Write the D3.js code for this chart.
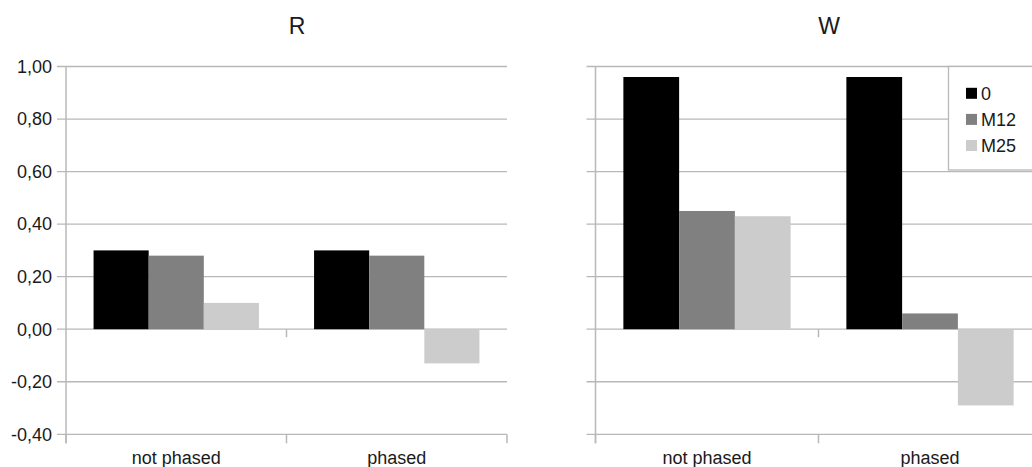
<!DOCTYPE html>
<html><head><meta charset="utf-8">
<script src="https://cdn.jsdelivr.net/npm/d3@7"></script>
<style>
body{margin:0;background:#fff;overflow:hidden}
text{font-family:"Liberation Sans",Arial,sans-serif;fill:#1a1a1a}
</style></head>
<body><svg id="c" width="1032" height="467"></svg>
<script>
const categories = ["not phased", "phased"];
const seriesNames = ["0", "M12", "M25"];
const seriesColors = ["#000000", "#808080", "#cccccc"];
const yTicks = [-0.4, -0.2, 0, 0.2, 0.4, 0.6, 0.8, 1.0];
const titles = ["R", "W"];
// values[series][category]
const valuesR = [[0.30, 0.30], [0.28, 0.28], [0.10, -0.13]];
const valuesW = [[0.96, 0.96], [0.45, 0.06], [0.43, -0.29]];

const svg = d3.select("#c");
const y = d3.scaleLinear().domain([-0.4, 1.0]).range([434.3, 66.5]);
const fmt = v => d3.format(".2f")(v).replace(".", ",").replace("−", "-");
const grid = "#b8b8b8";

function panel(x0, x1, values, title, showLabels, showLegend) {
  const g = svg.append("g");
  const x = d3.scaleBand().domain(categories).range([x0, x1]).paddingInner(0).paddingOuter(0);
  const inner = d3.scaleBand().domain(seriesNames).range([0, x.bandwidth()]).paddingOuter(0.5).paddingInner(0);

  // gridlines
  g.selectAll("line.grid").data(yTicks).join("line")
    .attr("x1", x0 - 9).attr("x2", x1).attr("y1", d => y(d)).attr("y2", d => y(d))
    .attr("stroke", grid).attr("stroke-width", 1.3);

  // bars
  seriesNames.forEach((s, si) => {
    g.selectAll(null).data(categories).join("rect")
      .attr("x", c => x(c) + inner(s))
      .attr("width", inner.bandwidth())
      .attr("y", (c, ci) => y(Math.max(0, values[si][ci])))
      .attr("height", (c, ci) => Math.abs(y(values[si][ci]) - y(0)))
      .attr("fill", seriesColors[si]);
  });

  // y axis line
  g.append("line").attr("x1", x0).attr("x2", x0).attr("y1", y(1.0)).attr("y2", y(-0.4) + 9)
    .attr("stroke", grid).attr("stroke-width", 1.5);
  // category ticks
  const bounds = [x0, ...categories.slice(1).map(c => x(c)), x1];
  g.selectAll("line.ct").data(bounds).join("line")
    .attr("x1", d => d).attr("x2", d => d).attr("y1", y(-0.4)).attr("y2", y(-0.4) + 9)
    .attr("stroke", grid).attr("stroke-width", 1.5);
  // zero-line tick at the category boundary
  g.selectAll("line.zt").data(categories.slice(1)).join("line")
    .attr("x1", c => x(c)).attr("x2", c => x(c)).attr("y1", y(0)).attr("y2", y(0) + 8)
    .attr("stroke", grid).attr("stroke-width", 1.5);

  if (showLabels) {
    g.selectAll("text.yl").data(yTicks).join("text")
      .attr("x", x0 - 14).attr("y", d => y(d)).attr("dy", "0.35em")
      .attr("text-anchor", "end").attr("font-size", 18).text(fmt);
  }
  g.selectAll("text.xl").data(categories).join("text")
    .attr("x", c => x(c) + x.bandwidth() / 2).attr("y", 464)
    .attr("text-anchor", "middle").attr("font-size", 18).text(c => c);

  g.append("text").attr("x", (x0 + x1) / 2 + 10.5).attr("y", 34)
    .attr("text-anchor", "middle").attr("font-size", 23).text(title);

  if (showLegend) {
    const lg = g.append("g");
    lg.append("rect").attr("x", 948.5).attr("y", y(1.0)).attr("width", 100).attr("height", 170 - y(1.0))
      .attr("fill", "#fff").attr("stroke", grid).attr("stroke-width", 1.3);
    const ly = d3.scalePoint().domain(seriesNames).range([93.3, 145.5]);
    seriesNames.forEach((s, i) => {
      lg.append("rect").attr("x", 966).attr("y", ly(s) - 5.5).attr("width", 11).attr("height", 11)
        .attr("fill", seriesColors[i]);
      lg.append("text").attr("x", 981).attr("y", ly(s)).attr("dy", "0.36em")
        .attr("font-size", 18).text(s);
    });
  }
}

panel(66, 507, valuesR, titles[0], true, false);
panel(595.5, 1041.5, valuesW, titles[1], false, true);
</script></body></html>
